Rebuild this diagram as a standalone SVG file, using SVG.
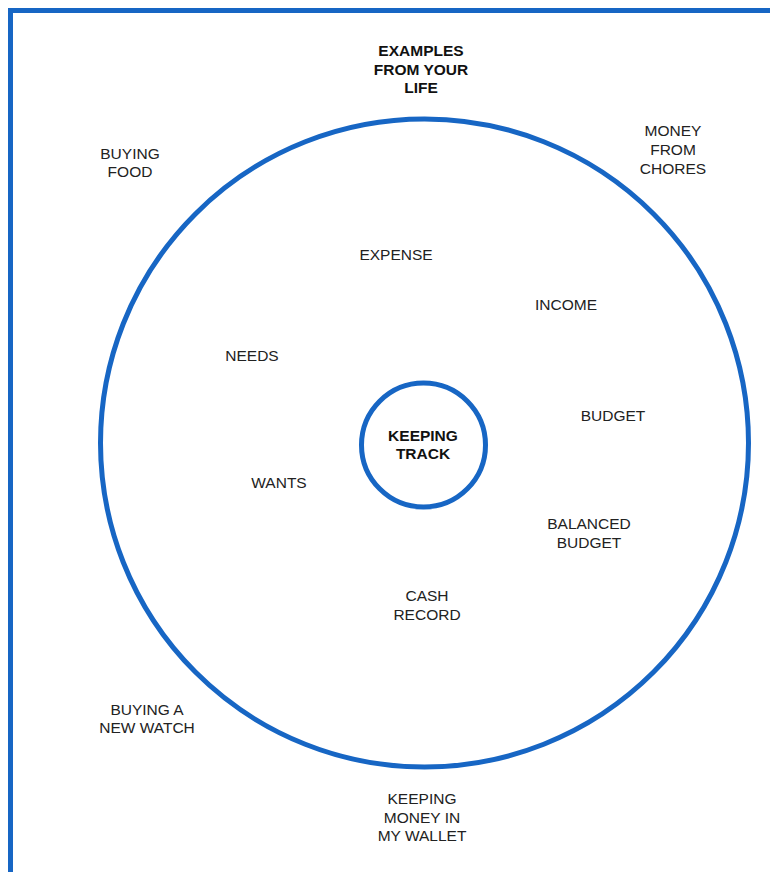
<svg xmlns="http://www.w3.org/2000/svg" width="770" height="872" viewBox="0 0 770 872">
<style>
.ring{fill:none;stroke:#1766c4;stroke-width:5}
text{font-family:"Liberation Sans",Arial,sans-serif;font-size:15.5px;fill:#222;text-anchor:middle}
.b{font-weight:bold;fill:#111}
</style>
<rect width="770" height="872" fill="#fff"/>
<path d="M10.5 872 V10.5 H770" fill="none" stroke="#1766c4" stroke-width="5"/>
<g id="connectors"></g>
<g id="outer"><circle class="ring" cx="424.5" cy="443" r="324"/></g>
<g id="center"><circle class="ring" cx="423.5" cy="445" r="62"/>
<text class="b" x="423" y="441">KEEPING</text><text class="b" x="423" y="459">TRACK</text></g>
<g id="examples"><text class="b" x="421" y="56">EXAMPLES</text><text class="b" x="421" y="75">FROM YOUR</text><text class="b" x="421" y="93">LIFE</text></g>
<g id="buying-food"><text x="130" y="159">BUYING</text><text x="130" y="177">FOOD</text></g>
<g id="money-chores"><text x="673" y="136">MONEY</text><text x="673" y="155">FROM</text><text x="673" y="174">CHORES</text></g>
<g id="expense"><text x="396" y="260">EXPENSE</text></g>
<g id="income"><text x="566" y="310">INCOME</text></g>
<g id="needs"><text x="252" y="361">NEEDS</text></g>
<g id="budget"><text x="613" y="421">BUDGET</text></g>
<g id="wants"><text x="279" y="488">WANTS</text></g>
<g id="balanced"><text x="589" y="529">BALANCED</text><text x="589" y="548">BUDGET</text></g>
<g id="cash"><text x="427" y="601">CASH</text><text x="427" y="620">RECORD</text></g>
<g id="watch"><text x="147" y="715">BUYING A</text><text x="147" y="733">NEW WATCH</text></g>
<g id="wallet"><text x="422" y="804">KEEPING</text><text x="422" y="823">MONEY IN</text><text x="422" y="841">MY WALLET</text></g>
</svg>
